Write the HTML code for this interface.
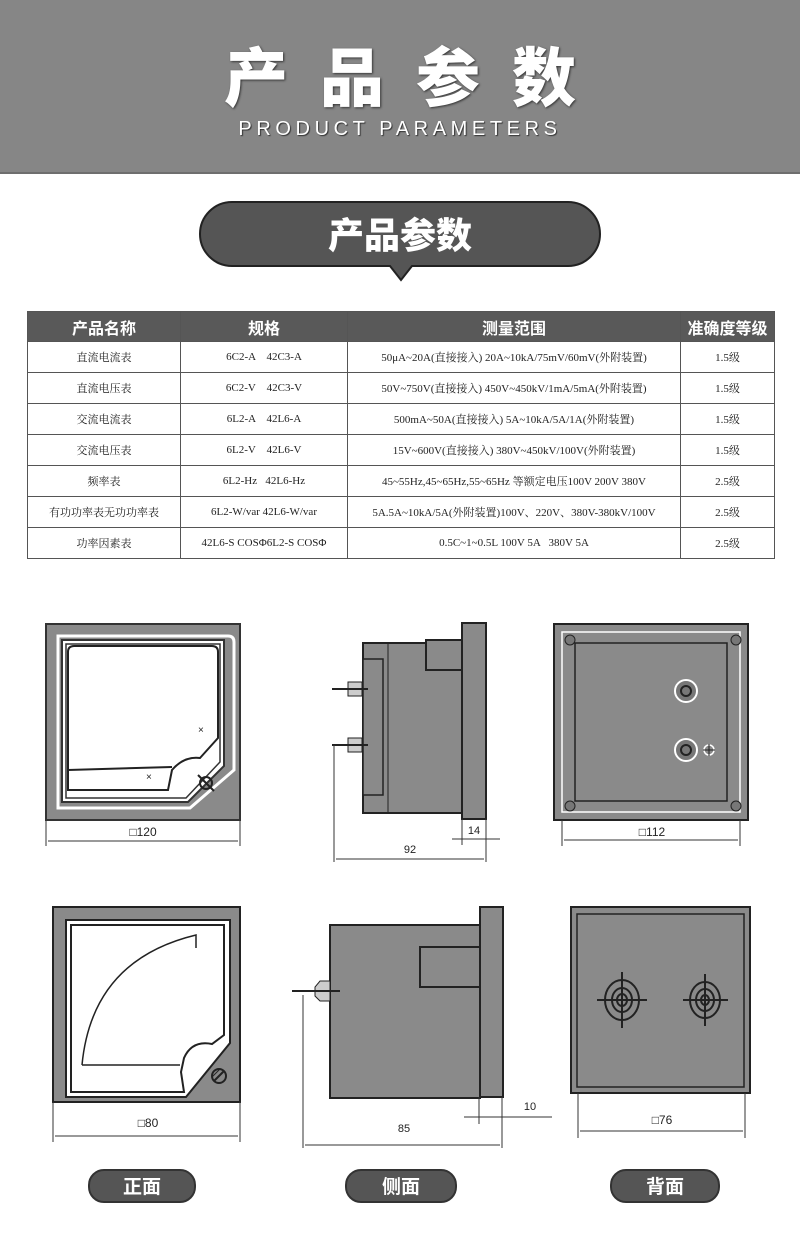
<!DOCTYPE html>
<html><head><meta charset="utf-8"><style>
body{margin:0;width:800px;height:1234px;background:#fff;font-family:"Liberation Sans","Noto Sans CJK SC",sans-serif;position:relative;overflow:hidden}
.hdr{position:absolute;left:0;top:0;width:800px;height:172px;background:#868686;border-bottom:2px solid #6e6e6e}
.t1{position:absolute;top:32px;left:0;width:800px;text-align:center;color:#fff;font-size:64px;font-weight:900;letter-spacing:32px;text-indent:32px;font-family:"Noto Sans CJK SC",sans-serif;line-height:84px;text-shadow:1px 1px 2px #333}
.t2{position:absolute;top:118px;left:0;width:800px;text-align:center;color:#fff;font-size:20px;letter-spacing:4.6px;text-shadow:1px 1px 1px #333}
table{position:absolute;left:27px;top:311px;border-collapse:collapse;width:748px;font-family:"Liberation Serif","Noto Serif CJK SC",serif;font-size:11px}
td,th{border:1px solid #555;text-align:center;height:30px;padding:0;color:#222}
th{background:#595959;color:#fff;font-family:"Noto Sans CJK SC",sans-serif;font-size:16px;font-weight:bold;height:29px}
.pill{position:absolute;height:30px;background:#555;border:2px solid #333;border-radius:16px;color:#fff;font-family:"Noto Sans CJK SC",sans-serif;font-weight:bold;font-size:19px;text-align:center;line-height:30px}
</style></head><body>
<div class="hdr"><div class="t1">产品参数</div><div class="t2">PRODUCT PARAMETERS</div></div>
<svg style="position:absolute;left:0;top:0" width="800" height="1234">
<path d="M232,202 H568 A32,32 0 0 1 568,266 H412 L401,280 L390,266 H232 A32,32 0 0 1 232,202 Z" fill="#555" stroke="#222" stroke-width="2"/>
<text x="400" y="248" text-anchor="middle" fill="#fff" font-size="36" font-weight="900" font-family="Noto Sans CJK SC,sans-serif">产品参数</text>

<!-- Front 1 -->
<rect x="46" y="624" width="194" height="196" fill="#8a8a8a" stroke="#333" stroke-width="2"/>
<path d="M58,636 H228 Q234,636 234,642 V770 L190,808 H58 Z" fill="none" stroke="#fff" stroke-width="3"/>
<path d="M62,640 H224 V766 L188,802 H62 Z" fill="#fff" stroke="#333" stroke-width="2"/>
<path d="M66,644 H220 V762 L186,798 H66 Z" fill="#fff" stroke="#333" stroke-width="1.5"/>
<path d="M68,652 Q68,646 74,646 H212 Q218,646 218,652 V738 L200,758 Q184,756 172,770 L168,790 H68 Z" fill="#fff" stroke="#222" stroke-width="2"/>
<line x1="68" y1="770" x2="172" y2="767" stroke="#222" stroke-width="2"/>
<text x="198" y="733" font-size="10" fill="#222">×</text><text x="146" y="780" font-size="10" fill="#222">×</text>
<circle cx="206" cy="783" r="6" fill="none" stroke="#222" stroke-width="2"/><line x1="198" y1="775" x2="214" y2="791" stroke="#222" stroke-width="2"/>
<line x1="46" y1="820" x2="46" y2="846" stroke="#333"/><line x1="240" y1="820" x2="240" y2="846" stroke="#333"/>
<line x1="48" y1="841" x2="238" y2="841" stroke="#333"/>
<text x="143" y="836" text-anchor="middle" font-size="12" fill="#222">□120</text>

<!-- Side 1 -->
<rect x="363" y="643" width="100" height="170" fill="#8a8a8a" stroke="#222" stroke-width="2"/>
<rect x="363" y="659" width="20" height="136" fill="#8a8a8a" stroke="#222" stroke-width="1.5"/>
<line x1="388" y1="643" x2="388" y2="813" stroke="#222"/>
<rect x="426" y="640" width="36" height="30" fill="#8a8a8a" stroke="#222" stroke-width="2"/>
<rect x="462" y="623" width="24" height="196" fill="#8a8a8a" stroke="#222" stroke-width="2"/>
<rect x="348" y="682" width="14" height="14" fill="#ccc" stroke="#222"/><line x1="332" y1="689" x2="368" y2="689" stroke="#222" stroke-width="2"/>
<rect x="348" y="738" width="14" height="14" fill="#ccc" stroke="#222"/><line x1="332" y1="745" x2="368" y2="745" stroke="#222" stroke-width="2"/>
<line x1="334" y1="745" x2="334" y2="862" stroke="#333"/><line x1="486" y1="819" x2="486" y2="862" stroke="#333"/><line x1="462" y1="819" x2="462" y2="845" stroke="#333"/>
<line x1="452" y1="839" x2="500" y2="839" stroke="#333"/><text x="474" y="834" text-anchor="middle" font-size="11" fill="#222">14</text>
<line x1="336" y1="859" x2="484" y2="859" stroke="#333"/><text x="410" y="853" text-anchor="middle" font-size="11" fill="#222">92</text>

<!-- Back 1 -->
<rect x="554" y="624" width="194" height="196" fill="#8a8a8a" stroke="#222" stroke-width="2"/>
<rect x="562" y="632" width="178" height="180" fill="none" stroke="#fff" stroke-width="1.5"/>
<path d="M575,643 H727 V801 H575 Z" fill="#8a8a8a" stroke="#222" stroke-width="1.5"/>
<circle cx="570" cy="640" r="5" fill="#777" stroke="#222"/><circle cx="736" cy="640" r="5" fill="#777" stroke="#222"/>
<circle cx="570" cy="806" r="5" fill="#777" stroke="#222"/><circle cx="736" cy="806" r="5" fill="#777" stroke="#222"/>
<circle cx="686" cy="691" r="11" fill="#777" stroke="#fff" stroke-width="2"/><circle cx="686" cy="691" r="5" fill="none" stroke="#222" stroke-width="2"/>
<circle cx="686" cy="750" r="11" fill="#777" stroke="#fff" stroke-width="2"/><circle cx="686" cy="750" r="5" fill="none" stroke="#222" stroke-width="2"/>
<circle cx="709" cy="750" r="5" fill="none" stroke="#fff" stroke-width="1.5"/><line x1="709" y1="744" x2="709" y2="756" stroke="#222"/><line x1="703" y1="750" x2="715" y2="750" stroke="#222"/>
<line x1="562" y1="820" x2="562" y2="846" stroke="#333"/><line x1="740" y1="820" x2="740" y2="846" stroke="#333"/>
<line x1="564" y1="840" x2="738" y2="840" stroke="#333"/><text x="652" y="836" text-anchor="middle" font-size="12" fill="#222">□112</text>

<!-- Front 2 -->
<rect x="53" y="907" width="187" height="195" fill="#8a8a8a" stroke="#222" stroke-width="2"/>
<path d="M66,920 H230 V1043 L186,1097 H66 Z" fill="#fff" stroke="#222" stroke-width="2"/>
<path d="M71,925 H224 V1035 L212,1044 Q192,1040 184,1058 L181,1072 L184,1092 H71 Z" fill="#fff" stroke="#222" stroke-width="2"/>
<path d="M82,1065 Q92,960 196,935 V948" fill="none" stroke="#222" stroke-width="1.5"/>
<line x1="82" y1="1065" x2="180" y2="1065" stroke="#222" stroke-width="1.5"/>
<circle cx="219" cy="1076" r="7" fill="#888" stroke="#222" stroke-width="2"/><line x1="214" y1="1081" x2="224" y2="1071" stroke="#222" stroke-width="2"/><line x1="212" y1="1077" x2="220" y2="1069" stroke="#222"/>
<line x1="53" y1="1102" x2="53" y2="1142" stroke="#333"/><line x1="240" y1="1102" x2="240" y2="1142" stroke="#333"/>
<line x1="55" y1="1136" x2="238" y2="1136" stroke="#333"/><text x="148" y="1127" text-anchor="middle" font-size="12" fill="#222">□80</text>

<!-- Side 2 -->
<rect x="330" y="925" width="150" height="173" fill="#8a8a8a" stroke="#222" stroke-width="2"/>
<rect x="420" y="947" width="60" height="40" fill="#8a8a8a" stroke="#222" stroke-width="2"/>
<rect x="480" y="907" width="23" height="190" fill="#8a8a8a" stroke="#222" stroke-width="2"/>
<path d="M330,981 H320 L315,987 V996 L320,1001 H330 Z" fill="#ccc" stroke="#222"/>
<line x1="292" y1="991" x2="340" y2="991" stroke="#222" stroke-width="2"/>
<line x1="303" y1="995" x2="303" y2="1148" stroke="#333"/><line x1="502" y1="1097" x2="502" y2="1148" stroke="#333"/><line x1="479" y1="1097" x2="479" y2="1124" stroke="#333"/>
<line x1="464" y1="1117" x2="552" y2="1117" stroke="#333"/><text x="530" y="1110" text-anchor="middle" font-size="11" fill="#222">10</text>
<line x1="305" y1="1145" x2="500" y2="1145" stroke="#333"/><text x="404" y="1132" text-anchor="middle" font-size="11" fill="#222">85</text>

<!-- Back 2 -->
<rect x="571" y="907" width="179" height="186" fill="#8a8a8a" stroke="#222" stroke-width="2"/>
<rect x="577" y="914" width="167" height="173" fill="#8a8a8a" stroke="#222" stroke-width="1.5"/>
<g stroke="#222" stroke-width="2" fill="none">
<ellipse cx="622" cy="1000" rx="17" ry="20"/><ellipse cx="622" cy="1000" rx="10" ry="12"/><ellipse cx="622" cy="1000" rx="5" ry="6"/>
<line x1="597" y1="1000" x2="647" y2="1000"/><line x1="622" y1="972" x2="622" y2="1028"/>
<ellipse cx="705" cy="1000" rx="15" ry="18"/><ellipse cx="705" cy="1000" rx="9" ry="11"/><ellipse cx="705" cy="1000" rx="4" ry="5"/>
<line x1="683" y1="1000" x2="728" y2="1000"/><line x1="705" y1="974" x2="705" y2="1026"/></g>
<line x1="578" y1="1093" x2="578" y2="1138" stroke="#333"/><line x1="745" y1="1093" x2="745" y2="1138" stroke="#333"/>
<line x1="580" y1="1131" x2="743" y2="1131" stroke="#333"/><text x="662" y="1124" text-anchor="middle" font-size="12" fill="#222">□76</text>
</svg>

<table>
<tr><th style="width:152px">产品名称</th><th style="width:166px">规格</th><th style="width:332px">测量范围</th><th>准确度等级</th></tr>
<tr><td>直流电流表</td><td>6C2-A &nbsp;&nbsp; 42C3-A</td><td>50μA~20A(直接接入) 20A~10kA/75mV/60mV(外附装置)</td><td>1.5级</td></tr>
<tr><td>直流电压表</td><td>6C2-V &nbsp;&nbsp; 42C3-V</td><td>50V~750V(直接接入) 450V~450kV/1mA/5mA(外附装置)</td><td>1.5级</td></tr>
<tr><td>交流电流表</td><td>6L2-A &nbsp;&nbsp; 42L6-A</td><td>500mA~50A(直接接入) 5A~10kA/5A/1A(外附装置)</td><td>1.5级</td></tr>
<tr><td>交流电压表</td><td>6L2-V &nbsp;&nbsp; 42L6-V</td><td>15V~600V(直接接入) 380V~450kV/100V(外附装置)</td><td>1.5级</td></tr>
<tr><td>频率表</td><td>6L2-Hz &nbsp; 42L6-Hz</td><td>45~55Hz,45~65Hz,55~65Hz 等额定电压100V 200V 380V</td><td>2.5级</td></tr>
<tr><td>有功功率表无功功率表</td><td>6L2-W/var 42L6-W/var</td><td>5A.5A~10kA/5A(外附装置)100V、220V、380V-380kV/100V</td><td>2.5级</td></tr>
<tr><td>功率因素表</td><td>42L6-S COSΦ6L2-S COSΦ</td><td>0.5C~1~0.5L 100V 5A &nbsp; 380V 5A</td><td>2.5级</td></tr>
</table>

<div class="pill" style="left:88px;top:1169px;width:104px">正面</div>
<div class="pill" style="left:345px;top:1169px;width:108px">侧面</div>
<div class="pill" style="left:610px;top:1169px;width:106px">背面</div>
</body></html>
